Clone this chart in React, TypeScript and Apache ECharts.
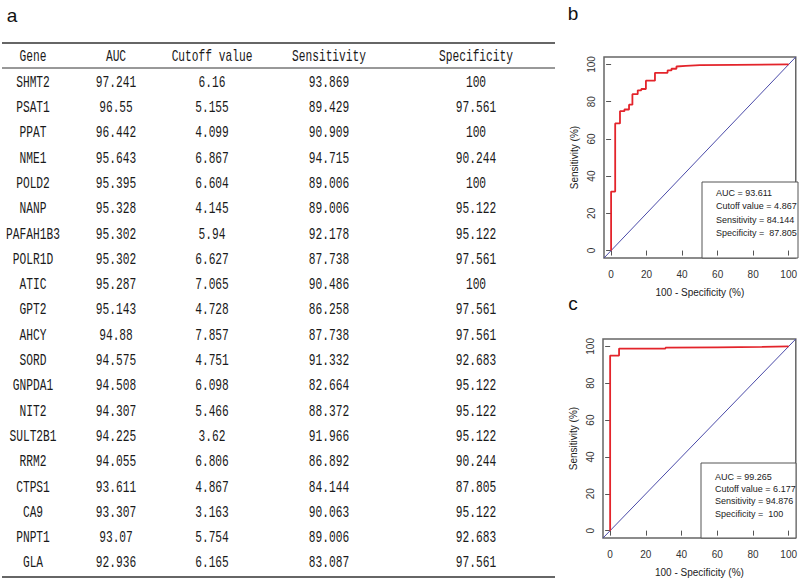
import React, { useEffect, useRef } from "react";
import * as echarts from "echarts";

// ---------- Table data (panel a) ----------
const headers = ["Gene", "AUC", "Cutoff value", "Sensitivity", "Specificity"];
const genes = ["SHMT2", "PSAT1", "PPAT", "NME1", "POLD2", "NANP", "PAFAH1B3", "POLR1D", "ATIC", "GPT2", "AHCY", "SORD", "GNPDA1", "NIT2", "SULT2B1", "RRM2", "CTPS1", "CA9", "PNPT1", "GLA"];
const auc = [97.241, 96.55, 96.442, 95.643, 95.395, 95.328, 95.302, 95.302, 95.287, 95.143, 94.88, 94.575, 94.508, 94.307, 94.225, 94.055, 93.611, 93.307, 93.07, 92.936];
const cutoff = [6.16, 5.155, 4.099, 6.867, 6.604, 4.145, 5.94, 6.627, 7.065, 4.728, 7.857, 4.751, 6.098, 5.466, 3.62, 6.806, 4.867, 3.163, 5.754, 6.165];
const sensitivity = [93.869, 89.429, 90.909, 94.715, 89.006, 89.006, 92.178, 87.738, 90.486, 86.258, 87.738, 91.332, 82.664, 88.372, 91.966, 86.892, 84.144, 90.063, 89.006, 83.087];
const specificity = [100, 97.561, 100, 90.244, 100, 95.122, 95.122, 97.561, 100, 97.561, 97.561, 92.683, 95.122, 95.122, 95.122, 90.244, 87.805, 95.122, 92.683, 97.561];

// ---------- ROC data (panels b, c) ----------
const axisTicks = [0, 20, 40, 60, 80, 100];
const rocBFpr = [0, 0, 2.3, 2.3, 5, 5, 7.5, 7.5, 10.1, 10.1, 12, 12, 15, 15, 17, 17, 19.6, 19.6, 24.7, 24.7, 31.8, 31.8, 34, 34, 36.8, 36.8, 42, 50, 70, 100];
const rocBTpr = [0, 31.7, 31.7, 68.3, 68.3, 74.9, 74.9, 75.8, 75.8, 78.4, 78.4, 84, 84, 86.1, 86.1, 86.8, 86.8, 91.3, 91.3, 95.5, 95.5, 96.8, 96.8, 97.7, 97.7, 98.9, 99.2, 99.6, 99.8, 100];
const rocCFpr = [0, 0, 5, 5, 31, 31, 60, 85, 100];
const rocCTpr = [0, 95, 95, 98.8, 98.8, 99.3, 99.5, 99.7, 100];
const statLabels = ["AUC = ", "Cutoff value = ", "Sensitivity = ", "Specificity =  "];
const statsB = ["93.611", "4.867", "84.144", "87.805"];
const statsC = ["99.265", "6.177", "94.876", "100"];

const colX = [33, 116, 212, 329, 476];

function tableText(x: number, y: number, text: string) {
  return {
    type: "text",
    x,
    y,
    scaleX: 0.66,
    silent: true,
    style: {
      text,
      align: "center",
      verticalAlign: "middle",
      textAlign: "center",
      textVerticalAlign: "middle",
      font: "17px 'Liberation Mono', monospace",
      fill: "#1a1a1a",
    },
  };
}

function hLine(y: number, w: number) {
  return {
    type: "line",
    silent: true,
    shape: { x1: 2, y1: y, x2: 555, y2: y },
    style: { stroke: "#333", lineWidth: w },
  };
}

function legendBox(x: number, y: number, w: number, h: number, values: string[], y0: number, dy: number) {
  const children: any[] = [
    {
      type: "rect",
      shape: { x, y, width: w, height: h },
      style: { fill: "#fff", stroke: "#555", lineWidth: 1 },
    },
  ];
  values.forEach((v, i) => {
    children.push({
      type: "text",
      x: x + 14,
      y: y0 + i * dy,
      style: {
        text: statLabels[i] + v,
        align: "left",
        verticalAlign: "middle",
        textAlign: "left",
        textVerticalAlign: "middle",
        font: "9px 'Liberation Sans', Arial, sans-serif",
        fill: "#222",
      },
    });
  });
  return { type: "group", z: 100, silent: true, children };
}

function panelLetter(x: number, y: number, t: string) {
  return {
    type: "text",
    x,
    y,
    silent: true,
    style: {
      text: t,
      align: "center",
      verticalAlign: "middle",
      textAlign: "center",
      textVerticalAlign: "middle",
      font: "19px 'Liberation Sans', Arial, sans-serif",
      fill: "#111",
    },
  };
}

function makeAxis(kind: "x" | "y", gridIndex: number) {
  const isY = kind === "y";
  return {
    type: "value",
    gridIndex,
    min: -4,
    max: 104,
    axisLine: { show: false },
    splitLine: { show: false },
    axisTick: {
      show: true,
      length: 5,
      customValues: axisTicks,
      lineStyle: { color: "#555", width: 1 },
    },
    axisLabel: {
      customValues: axisTicks,
      margin: isY ? 8 : 11,
      rotate: isY ? 90 : 0,
      fontSize: 10,
      fontFamily: "'Liberation Sans', Arial, sans-serif",
      color: "#333",
    },
    name: isY ? "Sensitivity (%)" : "100 - Specificity (%)",
    nameLocation: "middle",
    nameGap: isY ? 25 : 29,
    nameTextStyle: {
      fontSize: 10,
      fontFamily: "'Liberation Sans', Arial, sans-serif",
      color: "#222",
    },
  };
}

export default function App() {
  const ref = useRef<HTMLDivElement>(null);
  useEffect(() => {
    if (!ref.current) return;
    const chart = echarts.init(ref.current, undefined, { renderer: "svg" });

    const graphics: any[] = [];
    graphics.push(panelLetter(12, 15, "a"));
    graphics.push(panelLetter(573, 13, "b"));
    graphics.push(panelLetter(573, 303, "c"));
    graphics.push(hLine(43, 1.5));
    graphics.push(hLine(68, 1));
    graphics.push(hLine(577, 1.5));
    headers.forEach((h, i) => graphics.push(tableText(colX[i], 56, h)));
    const rowY0 = 82;
    const rowDy = 25.3;
    genes.forEach((g, r) => {
      const y = rowY0 + r * rowDy;
      const vals = [g, String(auc[r]), String(cutoff[r]), String(sensitivity[r]), String(specificity[r])];
      vals.forEach((v, c) => graphics.push(tableText(colX[c], y, v)));
    });
    graphics.push(legendBox(702, 182, 96, 76, statsB, 193, 13.3));
    graphics.push(legendBox(701, 463, 95, 75, statsC, 477, 12.2));

    const diag = [[-4, -4], [104, 104]];
    const rocB = rocBFpr.map((x, i) => [x, rocBTpr[i]]);
    const rocC = rocCFpr.map((x, i) => [x, rocCTpr[i]]);

    chart.setOption({
      animation: false,
      backgroundColor: "#fff",
      grid: [
        { left: 604, top: 57, width: 194, height: 201, show: true, borderColor: "#666", borderWidth: 1.5, backgroundColor: "transparent" },
        { left: 603, top: 339, width: 193, height: 199, show: true, borderColor: "#666", borderWidth: 1.5, backgroundColor: "transparent" },
      ],
      xAxis: [makeAxis("x", 0), makeAxis("x", 1)],
      yAxis: [makeAxis("y", 0), makeAxis("y", 1)],
      series: [
        { type: "line", xAxisIndex: 0, yAxisIndex: 0, data: diag, symbol: "none", silent: true, lineStyle: { color: "#4a4aa8", width: 1 } },
        { type: "line", xAxisIndex: 0, yAxisIndex: 0, data: rocB, symbol: "none", silent: true, lineStyle: { color: "#e3242b", width: 1.8 } },
        { type: "line", xAxisIndex: 1, yAxisIndex: 1, data: diag, symbol: "none", silent: true, lineStyle: { color: "#4a4aa8", width: 1 } },
        { type: "line", xAxisIndex: 1, yAxisIndex: 1, data: rocC, symbol: "none", silent: true, lineStyle: { color: "#e3242b", width: 1.8 } },
      ],
      graphic: graphics,
    });
    return () => chart.dispose();
  }, []);
  return (
    <div
      ref={ref}
      style={{ position: "absolute", left: 0, top: 0, width: 800, height: 579, background: "#fff" }}
    />
  );
}
